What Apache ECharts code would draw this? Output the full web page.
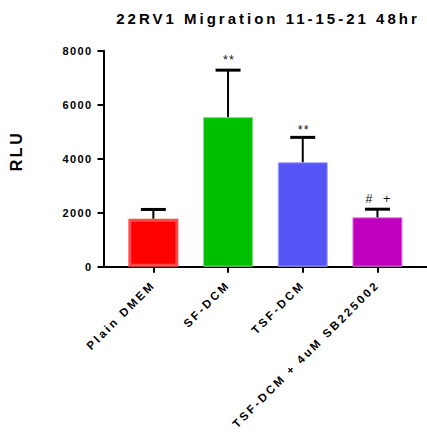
<!DOCTYPE html>
<html>
<head>
<meta charset="utf-8">
<title>22RV1 Migration 11-15-21 48hr</title>
<script src="https://cdn.jsdelivr.net/npm/echarts@6/dist/echarts.min.js"></script>
<style>
  html, body { margin: 0; padding: 0; background: #fff; }
  #chart { width: 427px; height: 435px; }
  #chart text { white-space: pre; }
  /* tracked lettering, keyed on each text's font size */
  #chart text[style*="font-size: 15px"] { letter-spacing: 3px; }
  #chart text[style*="font-size: 16px"] { letter-spacing: 2.5px; }
  #chart text[style*="font-size: 11.5px"] { letter-spacing: 2.6px; }
  #chart text[style*="font-size: 11px"] { letter-spacing: 1.4px; }
  #chart text[style*="font-size: 12.5px"] { letter-spacing: 1.2px; }
</style>
</head>
<body>
<div id="chart"></div>
<script>
// Treatment groups
const categories = ['Plain DMEM', 'SF-DCM', 'TSF-DCM', 'TSF-DCM + 4uM SB225002'];
// Mean RLU per group
const meanRLU = [1780, 5540, 3870, 1830];
// Top of the error bar (mean + SD) per group
const upperRLU = [2120, 7280, 4790, 2130];
// Significance marks drawn above each error bar
const sigMarks = ['', '**', '**', '#  +'];
// Value axis range and step
const yMin = 0;
const yMax = 8000;
const yStep = 2000;

const fill = ['#ff0000', '#00bf00', '#5555f6', '#bf00bf'];
const edge = ['#ff4a4a', '#7fdf7f', '#a9a9fb', '#df7fdf'];
const edgeW = [3, 1, 1, 1];
// extra lift (px) of each significance mark above its cap
const markLift = [0, 3, 0, 3];
const FONT = 'Arial, "Liberation Sans", Helvetica, sans-serif';

const chart = echarts.init(document.getElementById('chart'), null, { renderer: 'svg' });

const gridBox = { top: 50.7, bottom: 168.3 };

chart.setOption({
  animation: false,
  backgroundColor: '#fff',
  title: {
    text: '22RV1 Migration 11-15-21 48hr',
    left: 263,
    top: 6,
    textAlign: 'center',
    textStyle: { fontFamily: FONT, fontSize: 15, fontWeight: 'bold', color: '#000' }
  },
  graphic: [{
    type: 'text',
    x: 16.5,
    y: 151,
    rotation: Math.PI / 2,
    style: {
      text: 'RLU',
      align: 'center',
      verticalAlign: 'middle',
      fontFamily: FONT,
      fontSize: 16,
      fontWeight: 'bold',
      fill: '#000'
    }
  }],
  grid: [
    { left: 116, right: 12.2, top: gridBox.top, bottom: gridBox.bottom, outerBoundsMode: 'none', containLabel: false },
    { left: 103, right: 0, top: gridBox.top, bottom: gridBox.bottom, outerBoundsMode: 'none', containLabel: false }
  ],
  xAxis: [
    {
      type: 'category',
      gridIndex: 0,
      data: categories,
      axisLine: { show: false },
      axisTick: { show: true, alignWithLabel: true, length: 6, lineStyle: { color: '#000', width: 2 } },
      axisLabel: {
        interval: 0,
        rotate: 45,
        margin: 16,
        color: '#000',
        fontFamily: FONT,
        fontSize: 11.5,
        fontWeight: 'bold'
      },
      splitLine: { show: false }
    },
    {
      // baseline running the full width under the bars
      type: 'value',
      gridIndex: 1,
      min: 0,
      max: 1,
      axisLine: { show: true, onZero: false, lineStyle: { color: '#000', width: 2 } },
      axisTick: { show: false },
      axisLabel: { show: false },
      splitLine: { show: false }
    }
  ],
  yAxis: [
    {
      type: 'value',
      gridIndex: 0,
      min: yMin,
      max: yMax,
      interval: yStep,
      offset: 12.5,
      axisLine: { show: true, lineStyle: { color: '#000', width: 2 } },
      axisTick: { show: true, length: 6, lineStyle: { color: '#000', width: 2 } },
      axisLabel: {
        margin: 11,
        color: '#000',
        fontFamily: FONT,
        fontSize: 11,
        fontWeight: 'bold',
        formatter: (v) => String(v)
      },
      splitLine: { show: false }
    },
    {
      type: 'value',
      gridIndex: 1,
      min: 0,
      max: 1,
      show: false
    }
  ],
  series: [
    {
      type: 'bar',
      xAxisIndex: 0,
      yAxisIndex: 0,
      barWidth: 50,
      data: meanRLU.map((v, i) => ({
        value: v,
        itemStyle: { color: fill[i], borderColor: edge[i], borderWidth: edgeW[i] }
      })),
      z: 2
    },
    {
      type: 'custom',
      xAxisIndex: 0,
      yAxisIndex: 0,
      z: 5,
      data: categories.map((c, i) => [i, meanRLU[i], upperRLU[i]]),
      renderItem: function (params, api) {
        const i = api.value(0);
        const from = api.coord([i, api.value(1)]);
        const to = api.coord([i, api.value(2)]);
        const half = 12.5;
        return {
          type: 'group',
          children: [
            {
              type: 'line',
              shape: { x1: to[0], y1: from[1], x2: to[0], y2: to[1] },
              style: { stroke: '#000', lineWidth: 2 }
            },
            {
              type: 'line',
              shape: { x1: to[0] - half, y1: to[1], x2: to[0] + half, y2: to[1] },
              style: { stroke: '#000', lineWidth: 3 }
            },
            {
              type: 'text',
              style: {
                text: sigMarks[params.dataIndex],
                x: to[0] + 1,
                y: to[1] - 1 - markLift[params.dataIndex],
                align: 'center',
                verticalAlign: 'bottom',
                fontFamily: FONT,
                fontSize: 12.5,
                fill: '#111'
              }
            }
          ]
        };
      }
    }
  ]
});
</script>
</body>
</html>
